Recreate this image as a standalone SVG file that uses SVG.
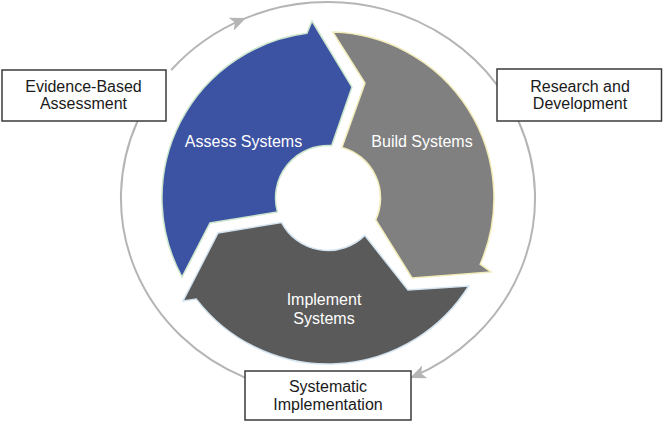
<svg xmlns="http://www.w3.org/2000/svg" width="663" height="422" viewBox="0 0 663 422">
<defs>
<style>
.ring{fill:none;stroke:#b5b5b5;stroke-width:2}
.box rect{fill:#fff;stroke:#3a3a3a;stroke-width:1.5}
.box text{font-family:"Liberation Sans",Arial,Helvetica,sans-serif;font-size:16px;fill:#1a1a1a;text-anchor:middle}
.seg text{font-family:"Liberation Sans",Arial,Helvetica,sans-serif;font-size:16px;fill:#fff;text-anchor:middle}
.seg path{stroke-width:1.5;stroke-linejoin:miter}
</style>
<marker id="ah" viewBox="0 0 16 14" markerWidth="16" markerHeight="14" refX="15" refY="7" orient="auto" markerUnits="userSpaceOnUse">
<path d="M0,0 L16,7 L0,14 L4,7 Z" fill="#b5b5b5"/>
</marker>
</defs>
<rect width="663" height="422" fill="#fff"/>
<g id="connectors">
<path class="ring" d="M171.2,70 A207,196 0 0 1 245,18.4" marker-end="url(#ah)"/>
<path class="ring" d="M245,18.4 A207,196 0 0 1 497,84.8"/>
<path class="ring" d="M518.4,121 A207,196 0 0 1 411,377.6" marker-end="url(#ah)"/>
<path class="ring" d="M245,377.6 A207,196 0 0 1 137.6,121"/>
</g>
<g id="seg-assess" class="seg">
<path d="M182,277 A166,166 0 0 1 306.9,33.3 L312,21 L352,87 L331.7,145.6 A52.5,52.5 0 0 0 277.4,211.9 L210,223 Z" fill="#3c52a2" stroke="#cbe6cc"/>
<text x="243.5" y="147">Assess Systems</text>
</g>
<g id="seg-build" class="seg">
<path d="M332.9,32.1 A166,166 0 0 1 480.2,264.2 L491,272 L412,278 L375.8,219.8 A52.5,52.5 0 0 0 341.9,147.4 L365,83 Z" fill="#808080" stroke="#f2ecb8"/>
<text x="422" y="147">Build Systems</text>
</g>
<g id="seg-implement" class="seg">
<path d="M468.8,286 A166,166 0 0 1 196.3,299.1 L183,301 L218,233 L281.6,222.6 A52.5,52.5 0 0 0 364.8,235.4 L408,290 Z" fill="#5a5a5a" stroke="#d3e4f0"/>
<text x="324" y="305">Implement</text>
<text x="324" y="324">Systems</text>
</g>
<g id="node-evidence" class="box">
<rect x="2" y="70" width="164" height="51"/>
<text x="83.5" y="92">Evidence-Based</text>
<text x="83.5" y="109">Assessment</text>
</g>
<g id="node-research" class="box">
<rect x="497" y="69" width="164.5" height="52"/>
<text x="580" y="92">Research and</text>
<text x="580" y="109">Development</text>
</g>
<g id="node-systematic" class="box">
<rect x="245" y="371" width="166" height="49"/>
<text x="328" y="392">Systematic</text>
<text x="328" y="410">Implementation</text>
</g>
</svg>
